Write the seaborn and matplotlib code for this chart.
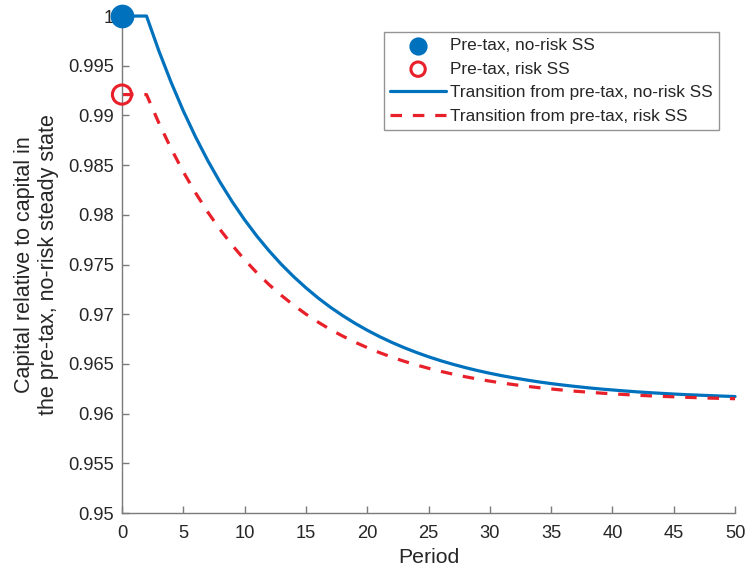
import matplotlib
matplotlib.use("Agg")
import matplotlib.pyplot as plt
import seaborn as sns
import pandas as pd
from matplotlib.ticker import FuncFormatter


periods = list(range(51))
no_risk_path = [
    1.0, 1.0, 1.0, 0.99652, 0.99335, 0.99046, 0.98784, 0.98545, 0.98328, 0.98130,
    0.97950, 0.97786, 0.97637, 0.97501, 0.97378, 0.97266, 0.97163, 0.97070, 0.96986, 0.96909,
    0.96839, 0.96775, 0.96717, 0.96664, 0.96616, 0.96572, 0.96532, 0.96496, 0.96463, 0.96433,
    0.96406, 0.96381, 0.96359, 0.96338, 0.96319, 0.96302, 0.96287, 0.96273, 0.96260, 0.96248,
    0.96238, 0.96228, 0.96219, 0.96211, 0.96204, 0.96197, 0.96191, 0.96186, 0.96181, 0.96176,
    0.96172,
]
risk_path = [
    0.9921, 0.9921, 0.9921, 0.98926, 0.98668, 0.98433, 0.98221, 0.98027, 0.97852, 0.97693,
    0.97548, 0.97417, 0.97297, 0.97189, 0.97091, 0.97001, 0.96920, 0.96846, 0.96780, 0.96719,
    0.96664, 0.96614, 0.96568, 0.96527, 0.96490, 0.96456, 0.96425, 0.96397, 0.96371, 0.96348,
    0.96327, 0.96308, 0.96291, 0.96275, 0.96261, 0.96248, 0.96236, 0.96225, 0.96216, 0.96207,
    0.96199, 0.96192, 0.96185, 0.96179, 0.96174, 0.96169, 0.96164, 0.96160, 0.96156, 0.96153,
    0.96150,
]
ss_no_risk = 1.0
ss_risk = 0.9921

x_ticks = list(range(0, 51, 5))
y_ticks = [0.95, 0.955, 0.96, 0.965, 0.97, 0.975, 0.98, 0.985, 0.99, 0.995, 1.0]

BLUE = "#0072BD"
RED = "#E8202A"
AXIS_GREY = "#7a7a7a"
TEXT = "#262626"

sns.set_style("ticks")
plt.rcParams["font.family"] = ["Liberation Sans", "DejaVu Sans"]
plt.rcParams["xtick.direction"] = "in"
plt.rcParams["ytick.direction"] = "in"

df = pd.DataFrame({"period": periods, "no_risk": no_risk_path, "risk": risk_path})

fig = plt.figure(figsize=(7.47, 5.73), dpi=100)
ax = fig.add_axes([0.1633, 0.1047, 0.8207, 0.8673])

sns.scatterplot(x=[0], y=[ss_no_risk], ax=ax, s=250, color=BLUE, edgecolor=BLUE,
                label="Pre-tax, no-risk SS", clip_on=False, zorder=5)
sns.scatterplot(x=[0], y=[ss_risk], ax=ax, s=190, facecolor="none", edgecolor=RED,
                linewidth=2.2, label="Pre-tax, risk SS", clip_on=False, zorder=5)
sns.lineplot(data=df, x="period", y="no_risk", ax=ax, color=BLUE, linewidth=2.3,
             label="Transition from pre-tax, no-risk SS", clip_on=False)
sns.lineplot(data=df, x="period", y="risk", ax=ax, color=RED, linewidth=2.3,
             label="Transition from pre-tax, risk SS", clip_on=False)
ax.lines[-1].set_dashes((3.6, 3.4))

ax.set_xlim(0, 50)
ax.set_ylim(0.95, 1.0)
ax.set_xticks(x_ticks)
ax.set_yticks(y_ticks)
ax.yaxis.set_major_formatter(FuncFormatter(lambda v, p: f"{v:.3f}".rstrip("0").rstrip(".")))

ax.spines["top"].set_visible(False)
ax.spines["right"].set_visible(False)
for side in ["left", "bottom"]:
    ax.spines[side].set_color(AXIS_GREY)
    ax.spines[side].set_linewidth(1.0)
ax.tick_params(axis="both", colors=AXIS_GREY, labelcolor=TEXT, labelsize=13.2,
               length=5, width=1.0)
ax.tick_params(axis="x", pad=8.7)
ax.tick_params(axis="y", pad=6)

ax.set_xlabel("Period", fontsize=15.3, color=TEXT, labelpad=4)
ax.set_ylabel("Capital relative to capital in\nthe pre-tax, no-risk steady state",
              fontsize=15.5, color=TEXT, labelpad=6, linespacing=1.2)

leg = ax.legend(loc="upper right", bbox_to_anchor=(0.974, 0.968), fontsize=12.4,
                frameon=True, fancybox=False, edgecolor=AXIS_GREY, handlelength=3.3,
                markerscale=0.75, borderpad=0.35, labelspacing=0.5, handletextpad=0.23,
                borderaxespad=0)
leg.get_frame().set_linewidth(1.0)
for t in leg.get_texts():
    t.set_color(TEXT)

fig.savefig("out.png", dpi=100)
